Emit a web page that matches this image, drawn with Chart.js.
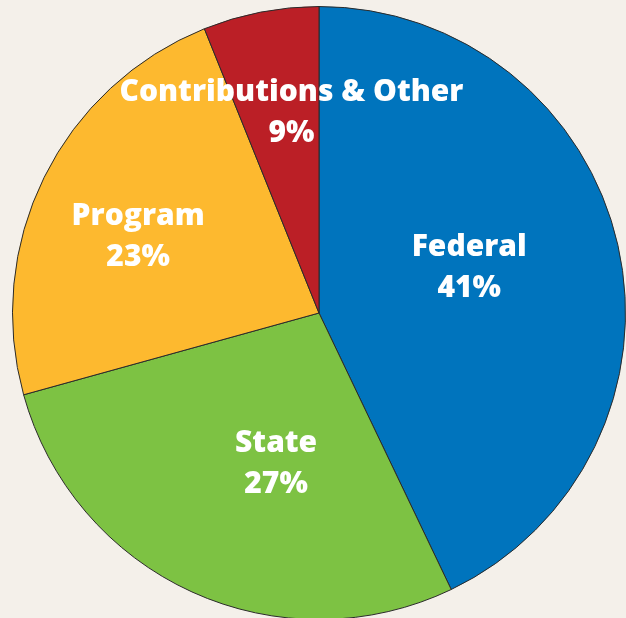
<!DOCTYPE html>
<html>
<head>
<meta charset="utf-8">
<script src="https://cdn.jsdelivr.net/npm/chart.js@4"></script>
<style>
  html, body { margin: 0; padding: 0; background: #f4f0ea; overflow: hidden; }
  #wrap { position: absolute; left: 0; top: 0; width: 640px; height: 640px; }
</style>
</head>
<body>
<div id="wrap"><canvas id="pie" width="640" height="640"></canvas></div>
<script>
// slice sizes as drawn (degrees, in percent)
const categories = ["Federal", "State", "Program", "Contributions & Other"];
const drawnShares = [42.9, 27.8, 23.2, 6.1];
// percentages printed on the chart
const printedShares = ["41%", "27%", "23%", "9%"];
const sliceColors = ["#0074bd", "#7dc243", "#fdb92f", "#bb1f26"];

// label block centres, relative to pie centre in units of radius
const labelOffsets = [[0.49, -0.15], [-0.14, 0.49], [-0.59, -0.25], [-0.09, -0.655]];

const sliceLabels = {
  id: 'sliceLabels',
  afterDatasetsDraw(chart) {
    const ctx = chart.ctx;
    const arc = chart.getDatasetMeta(0).data[0];
    const cx = arc.x, cy = arc.y, r = arc.outerRadius;
    ctx.save();
    ctx.fillStyle = '#ffffff';
    ctx.textAlign = 'center';
    ctx.textBaseline = 'middle';
    ctx.font = '800 30px "Open Sans"';
    categories.forEach((name, i) => {
      const x = cx + labelOffsets[i][0] * r;
      const y = cy + labelOffsets[i][1] * r;
      ctx.fillText(name, x, y - 20);
      ctx.fillText(printedShares[i], x, y + 21);
    });
    ctx.restore();
  }
};

new Chart(document.getElementById('pie'), {
  type: 'pie',
  data: {
    labels: categories,
    datasets: [{
      data: drawnShares,
      backgroundColor: sliceColors,
      borderColor: '#2a2a2a',
      borderWidth: 1
    }]
  },
  options: {
    responsive: false,
    animation: false,
    layout: { padding: { left: 12, right: 14, top: 6, bottom: 20 } },
    plugins: {
      legend: { display: false },
      tooltip: { enabled: false }
    }
  },
  plugins: [sliceLabels]
});
</script>
</body>
</html>
